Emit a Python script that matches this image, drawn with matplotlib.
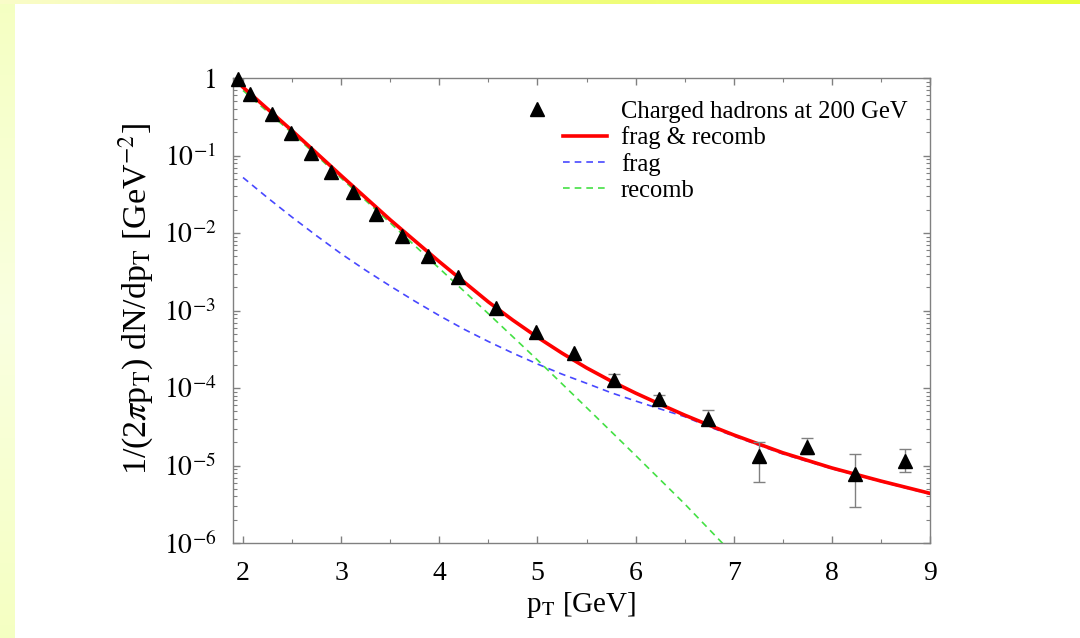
import matplotlib
matplotlib.use('Agg')
import matplotlib.pyplot as plt
import numpy as np
from matplotlib.legend_handler import HandlerLine2D
from matplotlib.ticker import FixedLocator, FixedFormatter, LogLocator, MultipleLocator, NullFormatter

# Charged hadron spectrum at 200 GeV
pt_data = [1.95, 2.07, 2.30, 2.49, 2.69, 2.90, 3.12, 3.35, 3.62, 3.88, 4.19,
           4.58, 4.99, 5.37, 5.78, 6.24, 6.74, 7.26, 7.75, 8.24, 8.75]
yield_data = [0.97, 0.62, 0.34, 0.195, 0.107, 0.061, 0.034, 0.0177, 0.0092,
              0.0050, 0.0027, 1.07e-3, 5.3e-4, 2.8e-4, 1.27e-4, 7.2e-5,
              4.0e-5, 1.32e-5, 1.75e-5, 7.8e-6, 1.15e-5]
# error bar ends for the high-pT points (the last ones in the list)
err_lo = [1.10e-4, 6.4e-5, 3.3e-5, 6.1e-6, 1.4e-5, 2.9e-6, 8.3e-6]
err_hi = [1.50e-4, 8.1e-5, 5.2e-5, 2.0e-5, 2.26e-5, 1.4e-5, 1.63e-5]

# model curves
pt_total = [2.0, 2.5, 3.0, 3.5, 4.0, 4.5, 4.75, 5.0, 5.25, 5.5, 5.75, 6.0,
            6.25, 6.5, 6.75, 7.0, 7.5, 8.0, 8.5, 9.0]
fr_total = [0.76, 0.209, 0.055, 0.0148, 4.27e-3, 1.29e-3, 7.5e-4, 4.52e-4,
            2.82e-4, 1.82e-4, 1.23e-4, 8.6e-5, 6.17e-5, 4.47e-5, 3.31e-5,
            2.48e-5, 1.46e-5, 9.3e-6, 6.3e-6, 4.37e-6]
pt_frag = [2.0, 2.25, 2.5, 2.75, 3.0, 3.25, 3.5, 3.75, 4.0, 4.25, 4.5, 4.75,
           5.0, 5.25, 5.5, 5.75, 6.0, 6.25, 6.5, 6.75, 7.0, 7.5, 8.0, 8.5, 9.0]
frag = [0.052, 0.0285, 0.0160, 9.2e-3, 5.4e-3, 3.3e-3, 2.07e-3, 1.32e-3,
        8.6e-4, 5.75e-4, 3.98e-4, 2.82e-4, 2.04e-4, 1.51e-4, 1.15e-4,
        8.7e-5, 6.8e-5, 5.37e-5, 4.27e-5, 3.16e-5, 2.4e-5, 1.41e-5, 9.1e-6,
        6.2e-6, 4.27e-6]
pt_recomb = [2.0, 2.5, 3.0, 3.5, 4.0, 4.5, 5.0, 5.5, 6.0, 6.5, 6.9]
recomb = [0.69, 0.195, 0.051, 0.0135, 3.5e-3, 9.1e-4, 2.3e-4, 5.6e-5,
          1.35e-5, 3.2e-6, 9.5e-7]


class MarkerLeft(HandlerLine2D):
    # draw the data symbol left of the sample-line slot
    def get_xdata(self, legend, xdescent, ydescent, width, height, fontsize):
        xm = -xdescent - 1.05 * fontsize
        return [xm, xm], [xm]


plt.rcParams['font.family'] = ['Liberation Serif', 'DejaVu Serif']
plt.rcParams['mathtext.fontset'] = 'stix'

fig = plt.figure(figsize=(10.8, 6.38), dpi=100, facecolor='white')

# slide background: pale yellow strip on the left, yellow gradient along the top
H, W = 638, 1080
bg = np.ones((H, W, 3))
t = np.linspace(0, 1, W)[None, :, None]
top_left = np.array([0.98, 0.99, 0.79])
top_right = np.array([0.91, 1.0, 0.24])
bg[:4, :, :] = top_left * (1 - t) + top_right * t
s = np.abs(np.linspace(-1, 1, H))[:, None, None]
bg[4:, :15, :] = (np.array([0.98, 1.0, 0.88]) * (1 - s) + np.array([0.96, 1.0, 0.76]) * s)[4:]
fig.figimage(bg, xo=0, yo=0, zorder=-10)

ax = fig.add_axes([233 / 1080, 1 - 543 / 638, 697 / 1080, 465 / 638])
ax.set_facecolor('none')

ax.plot(pt_total, fr_total, color='#ff0000', lw=2.6, label='frag & recomb', zorder=4)
ax.plot(pt_frag, frag, color='#4848ff', lw=1.2, dashes=(4, 3), label='frag', zorder=3)
ax.plot(pt_recomb, recomb, color='#44e044', lw=1.2, dashes=(4, 3), label='recomb', zorder=3)

n_err = len(err_lo)
x_err = pt_data[-n_err:]
y_err = yield_data[-n_err:]
yerr = [np.array(y_err) - np.array(err_lo), np.array(err_hi) - np.array(y_err)]
ax.errorbar(x_err, y_err, yerr=yerr, fmt='none', ecolor='#808080', elinewidth=1.0,
            capsize=4.5, capthick=1.0, zorder=5)
data_line, = ax.plot(pt_data, yield_data, ls='none', marker='^', ms=9.5, color='black',
                     label='Charged hadrons at 200 GeV', zorder=6, clip_on=False)

ax.set_yscale('log')
ax.set_xlim(1.898, 9.0)
ax.set_ylim(1e-6, 1.0)

ax.xaxis.set_major_locator(MultipleLocator(1))
ax.xaxis.set_minor_locator(MultipleLocator(0.5))
ax.yaxis.set_major_locator(FixedLocator([1e-6, 1e-5, 1e-4, 1e-3, 1e-2, 1e-1, 1]))
ax.yaxis.set_major_formatter(FixedFormatter(
    ['$10^{-6}$', '$10^{-5}$', '$10^{-4}$', '$10^{-3}$', '$10^{-2}$', '$10^{-1}$', '$1$']))
ax.yaxis.set_minor_locator(LogLocator(base=10, subs=np.arange(2, 10), numticks=20))
ax.yaxis.set_minor_formatter(NullFormatter())

for sp in ax.spines.values():
    sp.set_color('#808080')
    sp.set_linewidth(1.0)
ax.tick_params(which='both', direction='in', top=True, right=True, color='#808080')
ax.tick_params(which='major', length=5, width=1.0, labelsize=20)
ax.tick_params(which='minor', length=3, width=0.8)
ax.tick_params(axis='x', pad=13)
ax.tick_params(axis='y', pad=12)

ax.set_xlabel('p$_{\\rm T}$ [GeV]', fontsize=21, labelpad=3)
ax.set_ylabel('1/(2$\\pi$p$_{\\rm T}$) dN/dp$_{\\rm T}$ [GeV$^{-2}$]', fontsize=24.5)
ax.yaxis.set_label_coords(-0.112, 0.525)

handles, labels = ax.get_legend_handles_labels()
order = [3, 0, 1, 2]
ax.legend([handles[i] for i in order], [labels[i] for i in order], loc='upper left',
          bbox_to_anchor=(0.4735, 0.952), frameon=False, fontsize=17.7, handlelength=1.8,
          handletextpad=0.55, labelspacing=0.15, borderpad=0, borderaxespad=0,
          handler_map={data_line: MarkerLeft(numpoints=1)})

fig.savefig('out.png', dpi=100, facecolor='white')
